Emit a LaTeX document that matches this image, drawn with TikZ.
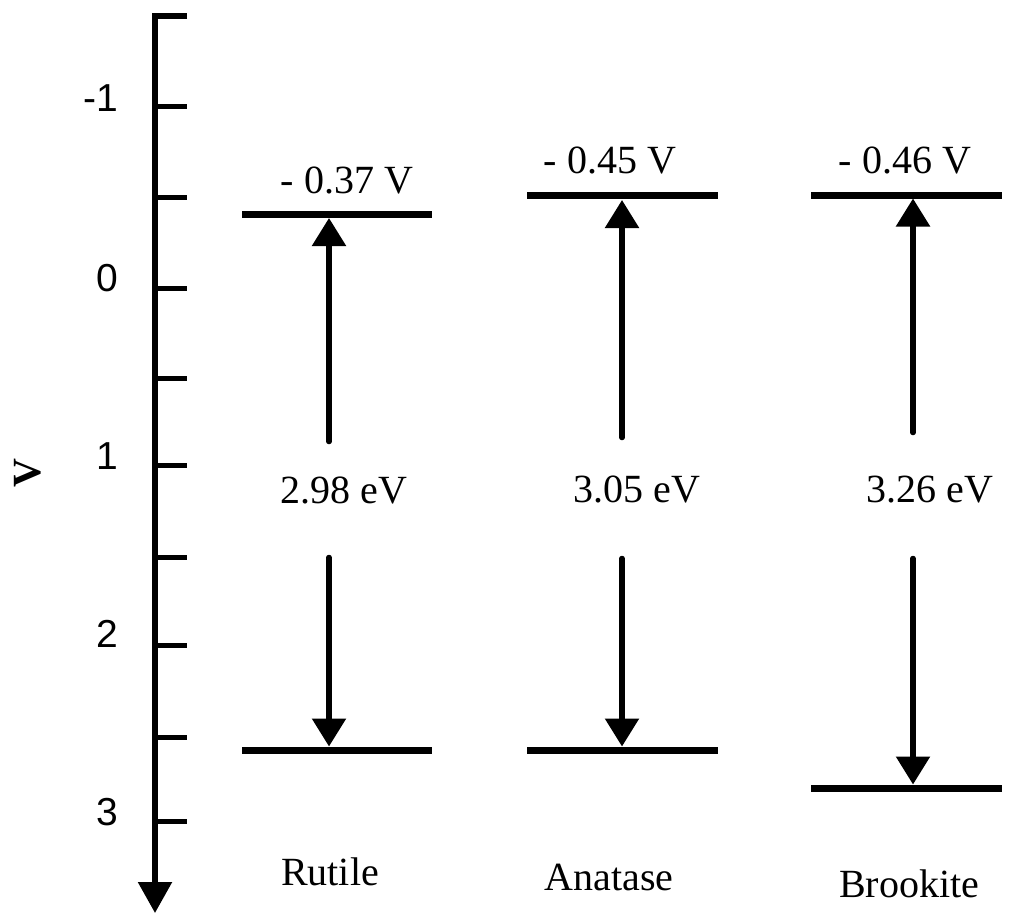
\documentclass[tikz,border=0pt]{standalone}
\usepackage{fontspec}
\setmainfont{Liberation Serif}
\newfontfamily\axisfont{Liberation Sans}
\usetikzlibrary{arrows.meta}
\begin{document}
\begin{tikzpicture}[x=1pt,y=-1pt,
  level/.style={line width=7pt},
  shaft/.style={line width=5.5pt, line cap=round, -{Triangle[width=33pt,length=28pt]}},
  axisline/.style={line width=5.5pt, -{Triangle[width=33pt,length=31pt]}},
  tickmark/.style={line width=5pt},
  lbl/.style={font=\fontsize{40}{48}\selectfont, anchor=base, inner sep=0pt},
  num/.style={font=\axisfont\fontsize{39}{47}\selectfont, anchor=base east, inner sep=0pt}]
\useasboundingbox (0,0) rectangle (1024,923);

% axis
\coordinate (atop) at (187,16);
\coordinate (acorner) at (155,16);
\coordinate (aend) at (155,913);
\draw[axisline] (atop) -- (acorner) -- (aend);
\foreach \y/\n in {107/t1,197/t2,288/t3,378/t4,465/t5,557/t6,645/t7,737/t8,821/t9}{
  \coordinate (\n a) at (155,\y);
  \coordinate (\n b) at (187,\y);
  \draw[tickmark] (\n a) -- (\n b);
}
\node[num] (nm1) at (118,112) {-1};
\node[num] (n0) at (118,291) {0};
\node[num] (n1) at (118,469) {1};
\node[num] (n2) at (118,647) {2};
\node[num] (n3) at (118,825) {3};
\node[font=\fontsize{40}{48}\selectfont\bfseries, rotate=90, inner sep=0pt] (vlab) at (28,473) {V};

% Rutile
\coordinate (rcl) at (242,214.5); \coordinate (rcr) at (432,214.5);
\coordinate (rvl) at (242,750);   \coordinate (rvr) at (432,750);
\draw[level] (rcl) -- (rcr);
\draw[level] (rvl) -- (rvr);
\coordinate (rcb) at (329,218); \coordinate (rvb) at (329,746.5);
\coordinate (rs1) at (329,441.5); \coordinate (rs2) at (329,557.5);
\draw[shaft] (rs1) -- (rcb);
\draw[shaft] (rs2) -- (rvb);
\node[lbl] (rpot) at (347,193) {- 0.37 V};
\node[lbl] (rgap) at (344,503) {2.98 eV};
\node[lbl] (rname) at (330,885) {Rutile};

% Anatase
\coordinate (acl) at (527,195); \coordinate (acr) at (718,195);
\coordinate (avl) at (527,750); \coordinate (avr) at (718,750);
\draw[level] (acl) -- (acr);
\draw[level] (avl) -- (avr);
\coordinate (acb) at (622,200); \coordinate (avb) at (622,746.5);
\coordinate (as1) at (622,437.5); \coordinate (as2) at (622,558.5);
\draw[shaft] (as1) -- (acb);
\draw[shaft] (as2) -- (avb);
\node[lbl] (apot) at (610,173) {- 0.45 V};
\node[lbl] (agap) at (637,502) {3.05 eV};
\node[lbl] (aname) at (609,890) {Anatase};

% Brookite
\coordinate (bcl) at (811,195); \coordinate (bcr) at (1002,195);
\coordinate (bvl) at (811,788); \coordinate (bvr) at (1002,788);
\draw[level] (bcl) -- (bcr);
\draw[level] (bvl) -- (bvr);
\coordinate (bcb) at (913,198.5); \coordinate (bvb) at (913,784.5);
\coordinate (bs1) at (913,432.5); \coordinate (bs2) at (913,558.5);
\draw[shaft] (bs1) -- (bcb);
\draw[shaft] (bs2) -- (bvb);
\node[lbl] (bpot) at (905,173) {- 0.46 V};
\node[lbl] (bgap) at (930,502) {3.26 eV};
\node[lbl] (bname) at (909,897) {Brookite};
\end{tikzpicture}
\end{document}
